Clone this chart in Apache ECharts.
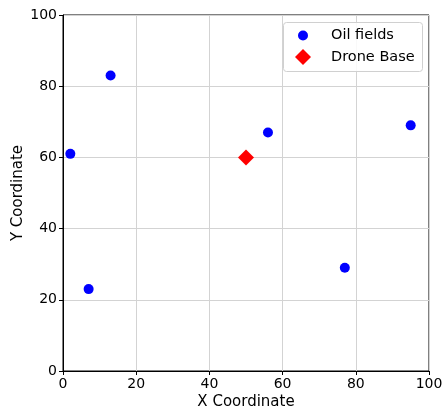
<!DOCTYPE html>
<html>
<head>
<meta charset="utf-8">
<script src="https://cdn.jsdelivr.net/npm/echarts@6/dist/echarts.min.js"></script>
<style>html,body{margin:0;padding:0;background:#fff;}#c{width:442px;height:409px;}</style>
</head>
<body>
<div id="c"></div>
<script>
const oilX = [2, 7, 13, 56, 77, 95];
const oilY = [61, 23, 83, 67, 29, 69];
const baseX = [50];
const baseY = [60];
const xTicks = [0, 20, 40, 60, 80, 100];
const yTicks = [0, 20, 40, 60, 80, 100];
const seriesNames = ['Oil fields', 'Drone Base'];

const font = 'DejaVu Sans';
const chart = echarts.init(document.getElementById('c'), null, {renderer: 'canvas'});
const diamondPath = 'path://M0,-1L1,0L0,1L-1,0Z';
chart.setOption({
  animation: false,
  backgroundColor: '#fff',
  grid: {left: 63, right: 13, top: 15, bottom: 38, outerBoundsMode: 'none', containLabel: false,
         show: true, borderColor: '#000', borderWidth: 1, backgroundColor: 'transparent'},
  xAxis: {
    type: 'value', min: xTicks[0], max: xTicks[xTicks.length - 1], interval: 20,
    name: 'X Coordinate', nameLocation: 'middle', nameGap: 24, nameMoveOverlap: false,
    nameTextStyle: {fontFamily: font, fontSize: 15, color: '#000'},
    axisLine: {show: true, onZero: false, lineStyle: {color: '#000', width: 1}},
    axisTick: {show: true, inside: false, length: 4, lineStyle: {color: '#000'}},
    axisLabel: {fontFamily: font, fontSize: 14, color: '#000', margin: 6, hideOverlap: false},
    splitLine: {show: true, lineStyle: {color: '#d3d3d3', width: 1}}
  },
  yAxis: {
    type: 'value', min: yTicks[0], max: yTicks[yTicks.length - 1], interval: 20,
    name: 'Y Coordinate', nameLocation: 'middle', nameGap: 37, nameMoveOverlap: false,
    nameTextStyle: {fontFamily: font, fontSize: 15, color: '#000'},
    axisLine: {show: true, onZero: false, lineStyle: {color: '#000', width: 1}},
    axisTick: {show: true, inside: false, length: 4, lineStyle: {color: '#000'}},
    axisLabel: {fontFamily: font, fontSize: 14, color: '#000', margin: 6, hideOverlap: false},
    splitLine: {show: true, lineStyle: {color: '#d3d3d3', width: 1}}
  },
  graphic: [{
    type: 'rect', left: 283, top: 22, z: 3,
    shape: {width: 139, height: 49, r: 3},
    style: {fill: 'rgba(255,255,255,0.85)', stroke: '#d0d0d0', lineWidth: 1}
  }],
  legend: [
    {
      data: [{name: seriesNames[0], icon: 'circle'}],
      left: 298, top: 28, padding: 0, itemWidth: 46, itemHeight: 10,
      textStyle: {fontFamily: font, fontSize: 14.5, color: '#000'},
      selectedMode: false, z: 5
    },
    {
      data: [{name: seriesNames[1], icon: diamondPath}],
      left: 295, top: 49, padding: 0, itemWidth: 46, itemHeight: 16,
      textStyle: {fontFamily: font, fontSize: 14.5, color: '#000'},
      selectedMode: false, z: 5
    }
  ],
  series: [
    {
      name: seriesNames[0], type: 'scatter', symbol: 'circle', symbolSize: 10,
      itemStyle: {color: '#0000ff', opacity: 1},
      data: oilX.map((x, i) => [x, oilY[i]]), z: 3
    },
    {
      name: seriesNames[1], type: 'scatter', symbol: 'diamond', symbolSize: [16, 16],
      itemStyle: {color: '#ff0000', opacity: 1},
      data: baseX.map((x, i) => [x, baseY[i]]), z: 3
    }
  ]
});
</script>
</body>
</html>
